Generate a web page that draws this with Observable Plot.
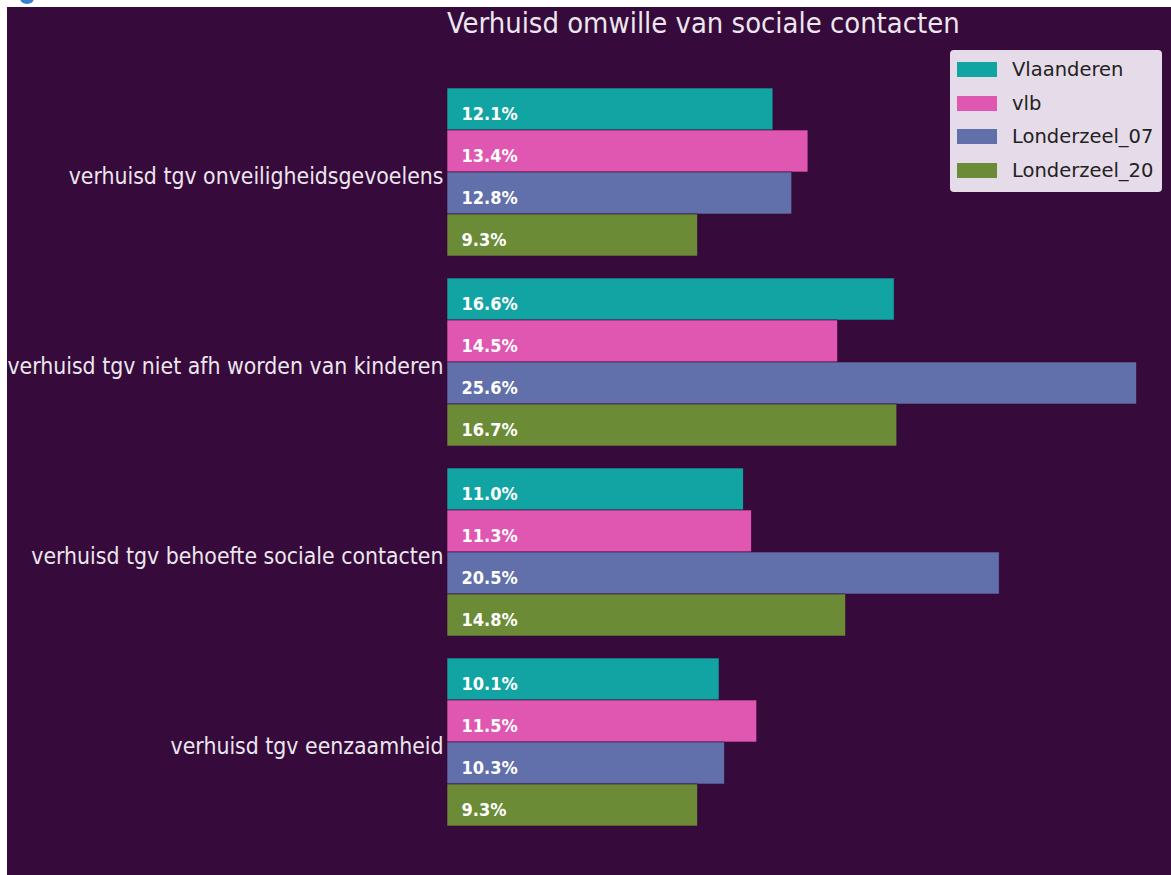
<!DOCTYPE html>
<html>
<head>
<meta charset="utf-8">
<script src="https://cdn.jsdelivr.net/npm/d3@7"></script>
<script src="https://cdn.jsdelivr.net/npm/@observablehq/plot@0.6"></script>
<style>
  html, body { margin: 0; padding: 0; background: #ffffff; }
  #frame { position: absolute; left: 7px; top: 7px; width: 1164px; height: 868px; background: #360a3a; overflow: hidden; font-family: "DejaVu Sans", sans-serif; }
  #title { position: absolute; left: 440px; top: -1px; font-family: "DejaVu Sans Condensed", "DejaVu Sans", sans-serif; font-size: 28.9px; color: #ece6ee; white-space: nowrap; }
  #legend { position: absolute; left: 943px; top: 43px; width: 212px; height: 142px; background: #e6dbe8; border-radius: 4px; box-sizing: border-box; padding-top: 3px; }
  .row { height: 33.6px; display: flex; align-items: center; }
  .sw { width: 40px; height: 15px; margin-left: 7px; margin-right: 15px; }
  .lt { font-size: 19.5px; color: #222; }
  #dot { position: absolute; left: 20px; top: -8px; width: 14px; height: 12px; border-radius: 50%; background: #3b7fd0; }
</style>
</head>
<body>
<div id="dot"></div>
<div id="frame">
  <div id="chart"></div>
  <div id="title"></div>
  <div id="legend"></div>
</div>
<script>
const titleText = "Verhuisd omwille van sociale contacten";
const categories = [
  "verhuisd tgv onveiligheidsgevoelens",
  "verhuisd tgv niet afh worden van kinderen",
  "verhuisd tgv behoefte sociale contacten",
  "verhuisd tgv eenzaamheid"
];
const seriesNames = ["Vlaanderen", "vlb", "Londerzeel_07", "Londerzeel_20"];
const seriesColors = ["#12a4a3", "#df57b1", "#6170aa", "#6b8b37"];
const vlaanderen = [12.1, 16.6, 11.0, 10.1];
const vlb = [13.4, 14.5, 11.3, 11.5];
const londerzeel07 = [12.8, 25.6, 20.5, 10.3];
const londerzeel20 = [9.3, 16.7, 14.8, 9.3];

const seriesValues = [vlaanderen, vlb, londerzeel07, londerzeel20];
const rows = [];
categories.forEach((c, i) => {
  seriesNames.forEach((s, j) => {
    rows.push({category: c, series: s, value: seriesValues[j][i]});
  });
});

const chart = Plot.plot({
  width: 1164,
  height: 868,
  marginLeft: 440,
  marginRight: 0,
  marginTop: 80,
  marginBottom: 48,
  style: {background: "transparent", fontFamily: "'DejaVu Sans Condensed', 'DejaVu Sans', sans-serif"},
  x: {domain: [0, 26.88], axis: null},
  y: {domain: seriesNames, axis: null, padding: 0},
  fy: {domain: categories, paddingInner: 20 / 190, paddingOuter: 0, label: null},
  color: {domain: seriesNames, range: seriesColors},
  marks: [
    Plot.axisFy({anchor: "left", tickSize: 0, tickPadding: 4, fontSize: 22.8, dy: 4, fill: "#ece6ee", label: null}),
    Plot.barX(rows, {fy: "category", y: "series", x: "value", fill: "series", stroke: "#36093a", strokeWidth: 0.6}),
    Plot.text(rows, {fy: "category", y: "series", x: 0, dx: 14, dy: 5, text: d => d.value.toFixed(1) + "%", textAnchor: "start", fill: "#ffffff", fontWeight: "bold", fontSize: 18})
  ]
});
document.getElementById("chart").appendChild(chart);
document.getElementById("title").textContent = titleText;

const legend = document.getElementById("legend");
seriesNames.forEach((s, i) => {
  const row = document.createElement("div");
  row.className = "row";
  const sw = document.createElement("div");
  sw.className = "sw";
  sw.style.background = seriesColors[i];
  const lt = document.createElement("div");
  lt.className = "lt";
  lt.textContent = s;
  row.appendChild(sw);
  row.appendChild(lt);
  legend.appendChild(row);
});
</script>
</body>
</html>
